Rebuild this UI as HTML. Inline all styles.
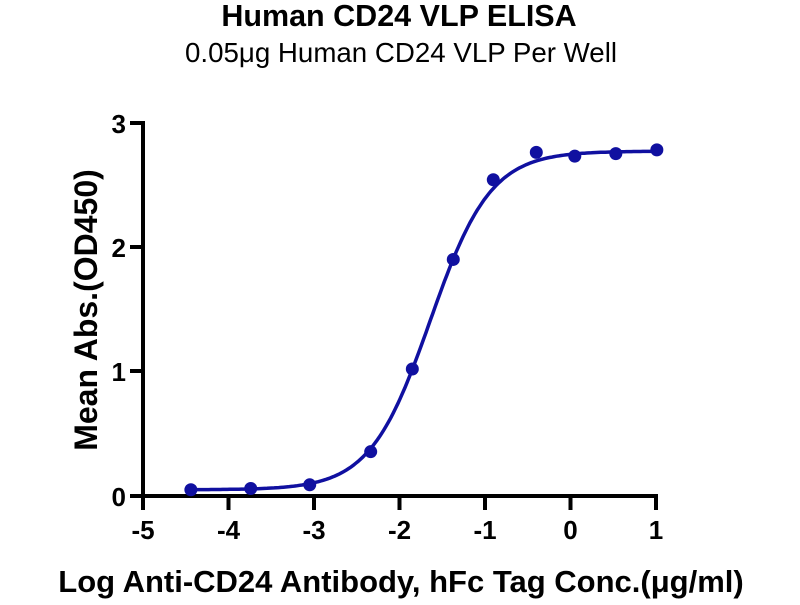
<!DOCTYPE html><html><head><style>body{margin:0;background:#fff}</style></head><body>
<svg width="800" height="600" xmlns="http://www.w3.org/2000/svg" font-family="Liberation Sans, Arial, sans-serif">
<text x="399" y="26" text-anchor="middle" font-size="30.5" font-weight="bold">Human CD24 VLP ELISA</text>
<text x="401" y="62" text-anchor="middle" font-size="27.7">0.05μg Human CD24 VLP Per Well</text>
<g stroke="#000" stroke-width="4" fill="none">
<line x1="143" y1="121" x2="143" y2="498"/>
<line x1="141" y1="496" x2="658" y2="496"/>
<line x1="130" y1="123" x2="143" y2="123"/><line x1="130" y1="247" x2="143" y2="247"/><line x1="130" y1="371" x2="143" y2="371"/><line x1="130" y1="496" x2="143" y2="496"/>
<line x1="143" y1="496" x2="143" y2="510"/><line x1="228.5" y1="496" x2="228.5" y2="510"/><line x1="314" y1="496" x2="314" y2="510"/><line x1="399.5" y1="496" x2="399.5" y2="510"/><line x1="485" y1="496" x2="485" y2="510"/><line x1="570.5" y1="496" x2="570.5" y2="510"/><line x1="656" y1="496" x2="656" y2="510"/>
</g>
<g font-size="26" font-weight="bold" text-anchor="end">
<text x="126" y="133">3</text><text x="126" y="257">2</text><text x="126" y="381">1</text><text x="126" y="506">0</text>
</g>
<g font-size="26" font-weight="bold" text-anchor="middle">
<text x="143" y="539">-5</text><text x="228.5" y="539">-4</text><text x="314" y="539">-3</text><text x="399.5" y="539">-2</text><text x="485" y="539">-1</text><text x="570.5" y="539">0</text><text x="656" y="539">1</text>
</g>
<text transform="translate(97,310) rotate(-90)" text-anchor="middle" font-size="32" font-weight="bold">Mean Abs.(OD450)</text>
<text x="401" y="592" text-anchor="middle" font-size="31" font-weight="bold">Log Anti-CD24 Antibody, hFc Tag Conc.(μg/ml)</text>
<path id="c" fill="none" stroke="#1010a0" stroke-width="3.5"/>
<g id="p" fill="#1010a0"></g>
<script>
var X=function(v){return 143+(v+5)*85.5},Y=function(v){return 496-v*124.5};
var d="";for(var i=0;i<=200;i++){var x=-4.45+i*5.46/200;var y=0.05+2.72/(1+Math.pow(10,(-1.64-x)*1.23));d+=(i?"L":"M")+X(x).toFixed(1)+","+Y(y).toFixed(1);}
document.getElementById("c").setAttribute("d",d);
var pts=[[-4.44,0.05],[-3.74,0.06],[-3.05,0.09],[-2.337,0.356],[-1.85,1.02],[-1.371,1.9],[-0.903,2.54],[-0.40,2.76],[0.05,2.73],[0.53,2.75],[1.01,2.78]];
var g=document.getElementById("p");pts.forEach(function(p){var c=document.createElementNS("http://www.w3.org/2000/svg","circle");c.setAttribute("cx",X(p[0]));c.setAttribute("cy",Y(p[1]));c.setAttribute("r",6.5);g.appendChild(c);});
</script>
</svg></body></html>
